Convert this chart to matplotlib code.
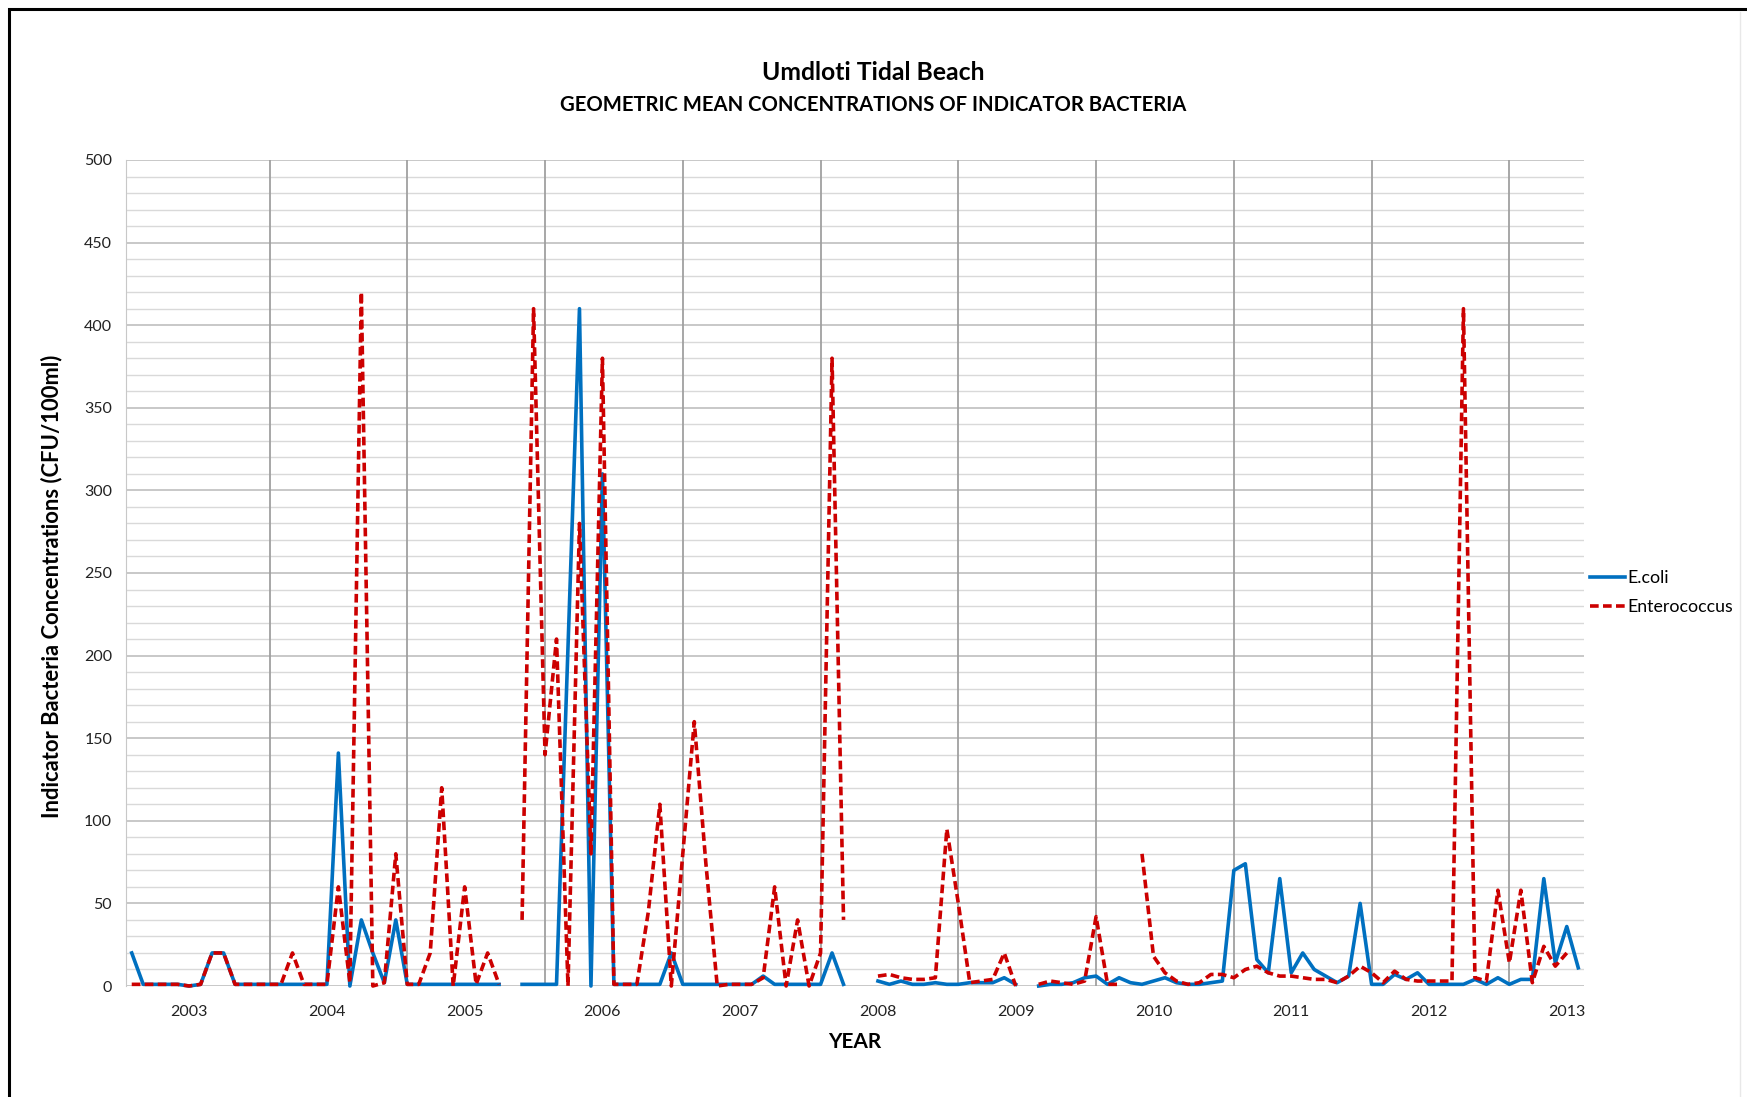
import numpy as np
import matplotlib
matplotlib.use('Agg')
import matplotlib.pyplot as plt

plt.rcParams['font.family'] = ['Lato', 'DejaVu Sans']

# ---- data: monthly geometric means, Aug 2002 .. Feb 2013 (None = no sample)
years = ['2003', '2004', '2005', '2006', '2007', '2008',
         '2009', '2010', '2011', '2012', '2013']

ecoli = [
    20, 1, 1, 1, 1, 0, 1, 20, 20, 1, 1, 1, 1, 1, 1, 1, 1, 1, 141, 0,
    40, 20, 2, 40, 1, 1, 1, 1, 1, 1, 1, 1, 1, None, 1, 1, 1, 1, 205, 410,
    0, 310, 1, 1, 1, 1, 1, 20, 1, 1, 1, 1, 1, 1, 1, 6, 1, 1, 1, 1,
    1, 20, 1, None, None, 3, 1, 3, 1, 1, 2, 1, 1, 2, 2, 2, 5, 1, None, 0,
    1, 1, 2, 5, 6, 1, 5, 2, 1, 3, 5, 2, 1, 1, 2, 3, 70, 74, 16, 8,
    65, 8, 20, 10, 6, 2, 6, 50, 1, 1, 7, 4, 8, 1, 1, 1, 1, 4, 1, 5,
    1, 4, 4, 65, 14, 36, 11,
]

entero = [
    1, 1, 1, 1, 1, 0, 1, 20, 20, 1, 1, 1, 1, 1, 20, 1, 1, 1, 60, 2,
    420, 0, 2, 80, 1, 1, 20, 120, 0, 60, 1, 20, 1, None, 40, 410, 140, 210, 0, 280,
    80, 380, 1, 1, 1, 45, 110, 0, 80, 160, 75, 0, 1, 1, 1, 5, 60, 0, 40, 0,
    20, 380, 40, None, None, 6, 7, 5, 4, 4, 5, 95, 50, 2, 3, 4, 20, 0, None, 1,
    3, 2, 1, 3, 42, 1, 1, None, 80, 18, 8, 3, 1, 2, 7, 7, 5, 10, 12, 8,
    6, 6, 5, 4, 4, 2, 6, 12, 8, 2, 9, 4, 3, 3, 3, 3, 410, 5, 3, 58,
    14, 58, 2, 24, 12, 20, None,
]

ecoli = np.array(ecoli, dtype=float)
entero = np.array(entero, dtype=float)
x = np.arange(len(ecoli))

BLUE = '#0070C0'
RED = '#CC0000'

# ---- figure
W, H = 1747, 1097
fig = plt.figure(figsize=(W / 100, H / 100), dpi=100)
ax = fig.add_axes([126 / W, 1 - 986 / H, 1458 / W, 826 / H])

# frame round the whole chart (right and bottom edges fall outside the image)
fig.patches.append(plt.Rectangle((9 / W, -0.01), 1.05, 1 - 9 / H + 0.01,
                                 transform=fig.transFigure, fill=False,
                                 edgecolor='black', lw=2.2))
fig.add_artist(plt.Line2D([1740 / W, 1740 / W], [0, 1 - 12 / H],
                          transform=fig.transFigure, color='#E8E8E8', lw=1))

ax.set_xlim(-0.5, len(x) - 0.5)
ax.set_ylim(0, 500)

ax.set_yticks(range(0, 501, 50))
ax.set_yticks(range(0, 501, 10), minor=True)
ax.grid(which='minor', axis='y', color='#D9D9D9', lw=1.0)
ax.grid(which='major', axis='y', color='#BFBFBF', lw=1.2)
for b in range(12, len(x), 12):
    ax.axvline(b, color='#A0A0A0', lw=1.3, zorder=1)

ax.set_xticks([5 + 12 * k for k in range(len(years))])
ax.set_xticklabels(years)
ax.tick_params(axis='both', which='both', length=0, labelsize=11.5, colors='#222222')
ax.tick_params(axis='x', pad=14)
ax.tick_params(axis='y', pad=10)

for s in ['top', 'right', 'bottom']:
    ax.spines[s].set_visible(False)
ax.spines['left'].set_color('#C8C8C8')
ax.set_axisbelow(True)

ax.plot(x, ecoli, color=BLUE, lw=2.6, label='E.coli', clip_on=False, zorder=3)
ax.plot(x, entero, color=RED, lw=2.6, ls=(0, (2.4, 1.2)), label='Enterococcus',
        clip_on=False, zorder=4)

ax.set_xlabel('YEAR', fontsize=15, fontweight='bold', labelpad=9)
ax.set_ylabel('Indicator Bacteria Concentrations (CFU/100ml)', fontsize=15.8,
              fontweight='bold')
ax.yaxis.set_label_coords(-0.0436, 0.484)

fig.text(873 / W, 1 - 73 / H, 'Umdloti Tidal Beach', ha='center', va='center',
         fontsize=17.8, fontweight='bold')
fig.text(873 / W, 1 - 105 / H, 'GEOMETRIC MEAN CONCENTRATIONS OF INDICATOR BACTERIA',
         ha='center', va='center', fontsize=14.6, fontweight='bold')

ax.legend(loc='center left', bbox_to_anchor=(1.004, 0.476), frameon=False,
          fontsize=12.8, handlelength=2.0, handletextpad=0.1, borderpad=0,
          borderaxespad=0, labelspacing=0.75)

fig.savefig('out.png', dpi=100)
